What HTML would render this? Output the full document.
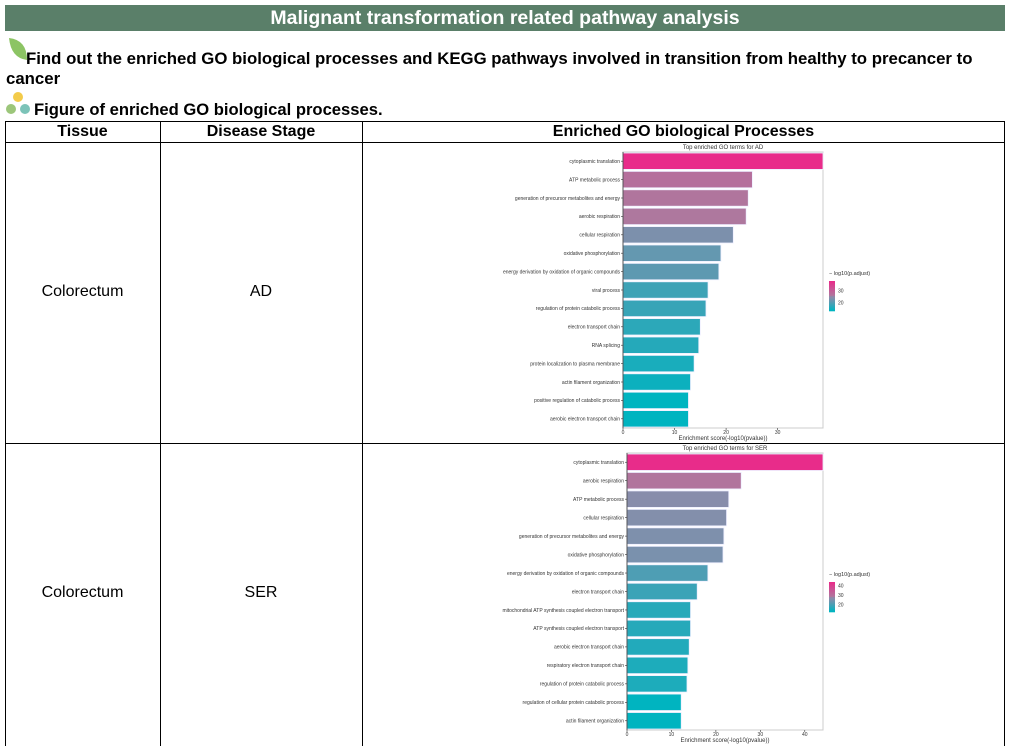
<!DOCTYPE html>
<html><head><meta charset="utf-8"><style>
body{margin:0;width:1012px;height:746px;overflow:hidden;background:#fff;font-family:"Liberation Sans",sans-serif;position:relative}
.a{position:absolute}
.hdr{left:5px;top:5px;width:1000px;height:26px;background:#5a7f69;color:#fff;font-weight:bold;font-size:19.5px;text-align:center;line-height:26px}
.t{font-weight:bold;font-size:16.8px;color:#000}
.cell{position:absolute;font-size:16px;text-align:center}
.th{font-weight:bold;font-size:16px;text-align:center;position:absolute;top:121px;height:21px;line-height:21px}
</style></head><body>
<div class="a hdr">Malignant transformation related pathway analysis</div>
<svg class="a" style="left:7px;top:36px" width="22" height="26"><path d="M2 2 Q20 4 20 24 Q4 22 2 2Z" fill="#8cc464"/></svg>
<div class="a t" style="left:6px;top:49px;width:985px;line-height:20px"><span style="margin-left:20px"></span>Find out the enriched GO biological processes and KEGG pathways involved in transition from healthy to precancer to cancer</div>
<svg class="a" style="left:4px;top:90px" width="30" height="28"><circle cx="14" cy="7" r="5" fill="#f3cb4a"/><circle cx="7" cy="19" r="5" fill="#9cc67a"/><circle cx="21" cy="19" r="5" fill="#7cc3b8"/></svg>
<div class="a t" style="left:34px;top:100px;font-size:16.6px">Figure of enriched GO biological processes.</div>
<svg class="a" style="left:0;top:0" width="1012" height="746">
<g stroke="#000" stroke-width="1" fill="none"><rect x="5.5" y="121.5" width="999" height="640"/><line x1="5" y1="142.5" x2="1005" y2="142.5"/><line x1="5" y1="443.5" x2="1005" y2="443.5"/><line x1="160.5" y1="121" x2="160.5" y2="746"/><line x1="362.5" y1="121" x2="362.5" y2="746"/></g></svg>
<div class="th" style="left:5px;width:155px">Tissue</div>
<div class="th" style="left:160px;width:202px">Disease Stage</div>
<div class="th" style="left:362px;width:643px">Enriched GO biological Processes</div>
<div class="cell" style="left:5px;width:155px;top:283px">Colorectum</div>
<div class="cell" style="left:160px;width:202px;top:283px">AD</div>
<div class="cell" style="left:5px;width:155px;top:584px">Colorectum</div>
<div class="cell" style="left:160px;width:202px;top:584px">SER</div>
<svg id="ch" class="a" style="left:0;top:0" width="1012" height="746"></svg>
<script>
const adTerms=["cytoplasmic translation","ATP metabolic process","generation of precursor metabolites and energy","aerobic respiration","cellular respiration","oxidative phosphorylation","energy derivation by oxidation of organic compounds","viral process","regulation of protein catabolic process","electron transport chain","RNA splicing","protein localization to plasma membrane","actin filament organization","positive regulation of catabolic process","aerobic electron transport chain"];
const adScores=[38.8,25.1,24.3,23.9,21.4,19.0,18.6,16.5,16.1,15.0,14.7,13.8,13.1,12.7,12.7];
const adPadj=[38,27,26,25.5,23,21,20.5,18,17.5,16.5,16,15,14,13,13];
const adTicks=[0,10,20,30];
const adLegendTicks=[20,30];
const serTerms=["cytoplasmic translation","aerobic respiration","ATP metabolic process","cellular respiration","generation of precursor metabolites and energy","oxidative phosphorylation","energy derivation by oxidation of organic compounds","electron transport chain","mitochondrial ATP synthesis coupled electron transport","ATP synthesis coupled electron transport","aerobic electron transport chain","respiratory electron transport chain","regulation of protein catabolic process","regulation of cellular protein catabolic process","actin filament organization"];
const serScores=[44.1,25.7,22.9,22.4,21.8,21.6,18.2,15.8,14.3,14.3,14.0,13.7,13.5,12.2,12.2];
const serPadj=[44,29,26,25.5,25,24.5,20,18,16,16,15.5,15,15,12,12];
const serTicks=[0,10,20,30,40];
const serLegendTicks=[20,30,40];
const NS="http://www.w3.org/2000/svg";
const svg=document.getElementById('ch');
function mk(tag,attrs,parent){const e=document.createElementNS(NS,tag);for(const k in attrs)e.setAttribute(k,attrs[k]);(parent||svg).appendChild(e);return e;}
function lerp(a,b,t){return Math.round(a+(b-a)*t);}
function col(v,lo,hi){let t=(v-lo)/(hi-lo);t=Math.max(0,Math.min(1,t));const c0=[0,180,192],cm=[140,140,170],c1=[232,44,138];let a,b,u;if(t<0.45){a=c0;b=cm;u=t/0.45}else{a=[168,128,160];b=c1;u=(t-0.45)/0.55;if(t<0.5){a=cm;}}return `rgb(${lerp(a[0],b[0],u)},${lerp(a[1],b[1],u)},${lerp(a[2],b[2],u)})`;}
function chart(o){
 const g=mk('g',{});
 
 
 const x=v=>o.x0+v*(o.x1-o.x0)/o.xmax;
 const n=o.terms.length,band=(o.yb-o.yt)/n;
 const lo=Math.min(...o.padj),hi=Math.max(...o.padj);
 mk('rect',{x:o.x0,y:o.yt,width:o.x1-o.x0,height:o.yb-o.yt,fill:'none',stroke:'#ccc','stroke-width':1},g);
 const tt=mk('text',{x:(o.x0+o.x1)/2,y:o.yt-3,'font-size':6,'text-anchor':'middle',fill:'#333'},g);tt.textContent=o.title;
 o.terms.forEach((t,i)=>{
  const y=o.yt+i*band;
  const r=mk('rect',{x:o.x0,y:y+1,width:x(o.scores[i])-o.x0,height:band-2,fill:col(o.padj[i],lo,hi),stroke:'#eef',"stroke-width":0.8},g);
  
  
  mk('line',{x1:o.x0-2,x2:o.x0,y1:y+band/2,y2:y+band/2,stroke:'#333','stroke-width':0.6},g);
  const l=mk('text',{x:o.x0-3,y:y+band/2+1.8,'font-size':5,'text-anchor':'end',fill:'#333'},g);l.textContent=t;
 });
 mk('line',{x1:o.x0,x2:o.x0,y1:o.yt,y2:o.yb,stroke:'#333','stroke-width':0.8},g);
 o.ticks.forEach(v=>{mk('line',{x1:x(v),x2:x(v),y1:o.yb,y2:o.yb+2,stroke:'#333','stroke-width':0.6},g);
  const tl=mk('text',{x:x(v),y:o.yb+6,'font-size':5,'text-anchor':'middle',fill:'#333'},g);tl.textContent=v;});
 const at=mk('text',{x:(o.x0+o.x1)/2,y:o.yb+12,'font-size':6,'text-anchor':'middle',fill:'#333'},g);at.textContent='Enrichment score(-log10(pvalue))';
 const lx=829,lt=o.ly,lh=30;
 const lg=mk('text',{x:lx,y:lt-6,'font-size':5.5,fill:'#333'},g);lg.textContent='− log10(p.adjust)';
 for(let k=0;k<30;k++){mk('rect',{x:lx,y:lt+k*lh/30,width:6,height:lh/30+0.3,fill:col(hi-(hi-lo)*k/29,lo,hi)},g);}
 o.lticks.forEach(v=>{const yy=lt+lh*(hi-v)/(hi-lo);const tx=mk('text',{x:lx+9,y:yy+1.8,'font-size':5,fill:'#333'},g);tx.textContent=v;});
}
chart({name:'chart-ad',title:'Top enriched GO terms for AD',terms:adTerms,scores:adScores,padj:adPadj,ticks:adTicks,lticks:adLegendTicks,x0:623,x1:823,xmax:38.8,yt:152,yb:428,ly:281});
chart({name:'chart-ser',title:'Top enriched GO terms for SER',terms:serTerms,scores:serScores,padj:serPadj,ticks:serTicks,lticks:serLegendTicks,x0:627,x1:823,xmax:44.1,yt:453,yb:730,ly:582});
</script>
</body></html>
